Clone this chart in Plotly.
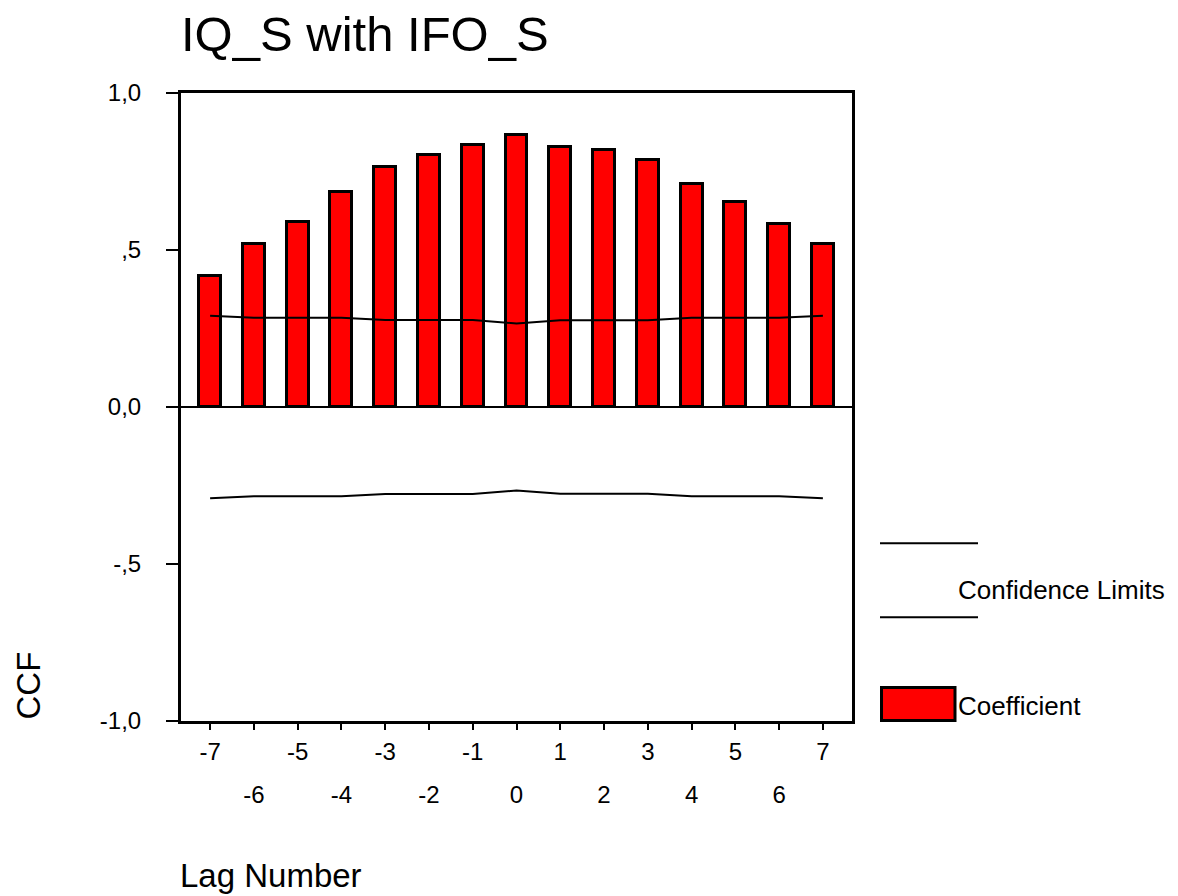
import plotly.graph_objects as go

# ---- data ----
lags = [-7, -6, -5, -4, -3, -2, -1, 0, 1, 2, 3, 4, 5, 6, 7]
coefficient = [0.418, 0.520, 0.590, 0.685, 0.764, 0.803, 0.835, 0.866,
               0.827, 0.819, 0.788, 0.709, 0.654, 0.584, 0.520]
upper_limit = [0.291, 0.284, 0.284, 0.284, 0.277, 0.277, 0.277, 0.266,
               0.276, 0.276, 0.276, 0.284, 0.284, 0.284, 0.291]
lower_limit = [-0.291, -0.284, -0.284, -0.284, -0.277, -0.277, -0.277, -0.266,
               -0.276, -0.276, -0.276, -0.284, -0.284, -0.284, -0.291]
y_tickvals = [1.0, 0.5, 0.0, -0.5, -1.0]
y_ticktext = ["1,0", ",5", "0,0", "-,5", "-1,0"]
x_odd = [-7, -5, -3, -1, 1, 3, 5, 7]
x_even = [-6, -4, -2, 0, 2, 4, 6]

FONT = "Liberation Sans, Arial, sans-serif"
OFF = 8  # page body margin
W, H = 1178 - OFF, 896 - OFF
# plot area in screen pixels
SL, SR, ST, SB = 181, 852, 93, 721
L, R, T, B = SL - OFF, SR - OFF, ST - OFF, SB - OFF


def px(x):
    return (x - SL) / (SR - SL)


def py(y):
    return (SB - y) / (SB - ST)


fig = go.Figure()
fig.add_trace(go.Bar(
    x=lags, y=coefficient, width=0.5,
    marker=dict(color="#FF0000", line=dict(color="black", width=3)),
    name="Coefficient", showlegend=False,
))
fig.add_trace(go.Scatter(
    x=lags, y=upper_limit, mode="lines",
    line=dict(color="black", width=2), showlegend=False,
))
fig.add_trace(go.Scatter(
    x=lags, y=lower_limit, mode="lines", xaxis="x2",
    line=dict(color="black", width=2), showlegend=False,
))

xr = [-7.665, 7.665]
fig.update_layout(
    width=W, height=H,
    margin=dict(l=L, r=W - R, t=T, b=H - B),
    paper_bgcolor="white", plot_bgcolor="white",
    font=dict(family=FONT, color="black", size=24),
    showlegend=False,
    bargap=0,
    title=dict(text="IQ_S with IFO_S", font=dict(size=49, family=FONT, color="black"),
               x=0, xref="paper", xanchor="left",
               y=1 - (33.5 - OFF) / H, yref="container", yanchor="middle"),
    xaxis=dict(range=xr, tickvals=lags,
               ticktext=[str(v) if v in x_odd else "" for v in lags],
               ticks="outside", ticklen=6, tickwidth=2, tickcolor="black",
               showline=True, linewidth=3, linecolor="black", mirror=True,
               showgrid=False, zeroline=False, ticklabelstandoff=1,
               tickfont=dict(size=24)),
    xaxis2=dict(range=xr, overlaying="x", anchor="y", side="bottom", matches="x",
                tickvals=x_even, ticktext=[str(v) for v in x_even],
                ticks="", showline=False, showgrid=False, zeroline=False,
                ticklabelstandoff=57, tickfont=dict(size=24)),
    yaxis=dict(range=[-1, 1], tickvals=y_tickvals, ticktext=y_ticktext,
               ticks="outside", ticklen=12, tickwidth=2, tickcolor="black",
               showline=True, linewidth=3, linecolor="black", mirror=True,
               showgrid=False, zeroline=True, zerolinecolor="black", zerolinewidth=2,
               ticklabelstandoff=20, tickfont=dict(size=24)),
)

# axis titles
fig.add_annotation(text="CCF", x=px(27.5), y=py(686), xref="paper", yref="paper",
                   textangle=-90, showarrow=False, xanchor="center", yanchor="middle",
                   font=dict(size=33, family=FONT, color="black"))
fig.add_annotation(text="Lag Number", x=px(178), y=py(876), xref="paper", yref="paper",
                   showarrow=False, xanchor="left", yanchor="middle",
                   font=dict(size=33, family=FONT, color="black"))

# legend (drawn manually to match the reference layout)
for ly in (543.3, 617.3):
    fig.add_shape(type="line", xref="paper", yref="paper",
                  x0=px(880), x1=px(978), y0=py(ly), y1=py(ly),
                  line=dict(color="black", width=2))
fig.add_annotation(text="Confidence Limits", x=px(956), y=py(590), xref="paper", yref="paper",
                   showarrow=False, xanchor="left", yanchor="middle",
                   font=dict(size=26, family=FONT, color="black"))
fig.add_shape(type="rect", xref="paper", yref="paper",
              x0=px(881.5), x1=px(955), y0=py(687.5), y1=py(720.5),
              fillcolor="#FF0000", line=dict(color="black", width=3))
fig.add_annotation(text="Coefficient", x=px(956), y=py(706), xref="paper", yref="paper",
                   showarrow=False, xanchor="left", yanchor="middle",
                   font=dict(size=26, family=FONT, color="black"))

fig.write_html("out.html")
